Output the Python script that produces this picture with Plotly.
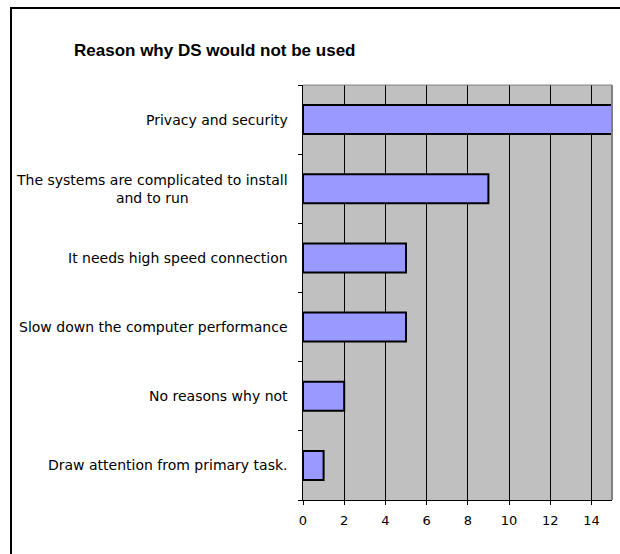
import plotly.graph_objects as go

categories = [
    "Privacy and security",
    "The systems are complicated to install<br>and to run",
    "It needs high speed connection",
    "Slow down the computer performance",
    "No reasons why not",
    "Draw attention from primary task.",
]
values = [15, 9, 5, 5, 2, 1]
x_ticks = [0, 2, 4, 6, 8, 10, 12, 14]

W, H = 620, 554
L, R, T, B = 303, 8, 85, 54
pw, ph = W - L - R, H - T - B

n = len(categories)
ypos = list(range(n))  # 0 at top via reversed axis

fig = go.Figure()
fig.add_trace(go.Bar(
    x=values, y=ypos, orientation="h",
    marker=dict(color="#9999FF", line=dict(color="black", width=2)),
    width=0.42, hoverinfo="skip",
))

fig.update_layout(
    width=W, height=H,
    margin=dict(l=L, r=R, t=T, b=B, pad=0),
    paper_bgcolor="white", plot_bgcolor="#C0C0C0",
    showlegend=False,
    font=dict(family="Liberation Sans, Arial, sans-serif", size=12, color="black"),
    title=dict(text="<b>Reason why DS would not be used</b>",
               x=74 / W, xanchor="left", y=1 - 50 / H, yanchor="middle",
               font=dict(size=17, color="black")),
)
fig.update_xaxes(
    range=[0, 15], tickvals=x_ticks, showgrid=True, gridcolor="black", gridwidth=1,
    zeroline=False, ticks="outside", ticklen=4, tickcolor="black",
    showline=True, linecolor="black", linewidth=1, ticklabelstandoff=4,
    tickfont=dict(size=13, family="DejaVu Sans"), fixedrange=True,
)
fig.update_yaxes(
    range=[n - 0.5, -0.5], tickvals=[i - 0.5 for i in range(n + 1)],
    ticktext=[""] * (n + 1), ticks="outside", ticklen=4, tickcolor="black",
    showgrid=False, zeroline=False, showline=True, linecolor="black", linewidth=1,
    fixedrange=True,
)
# right and top edges of plot area (gray)
fig.add_shape(type="line", xref="paper", yref="paper", x0=1, x1=1, y0=0, y1=1,
              line=dict(color="#808080", width=2))
fig.add_shape(type="line", xref="paper", yref="paper", x0=0, x1=1, y0=1, y1=1,
              line=dict(color="#808080", width=1))
# outer chart border
fig.add_shape(type="rect", xref="paper", yref="paper",
              x0=(11 - L) / pw, x1=1.2, y0=-0.5, y1=(H - B - 8) / ph,
              line=dict(color="black", width=2), layer="below")

for i, c in enumerate(categories):
    fig.add_annotation(text=c, xref="paper", yref="y", x=0, y=i,
                       xanchor="right", yanchor="middle", xshift=-13,
                       showarrow=False, align="center",
                       font=dict(size=14, family="DejaVu Sans"))

fig.write_html("out.html")
